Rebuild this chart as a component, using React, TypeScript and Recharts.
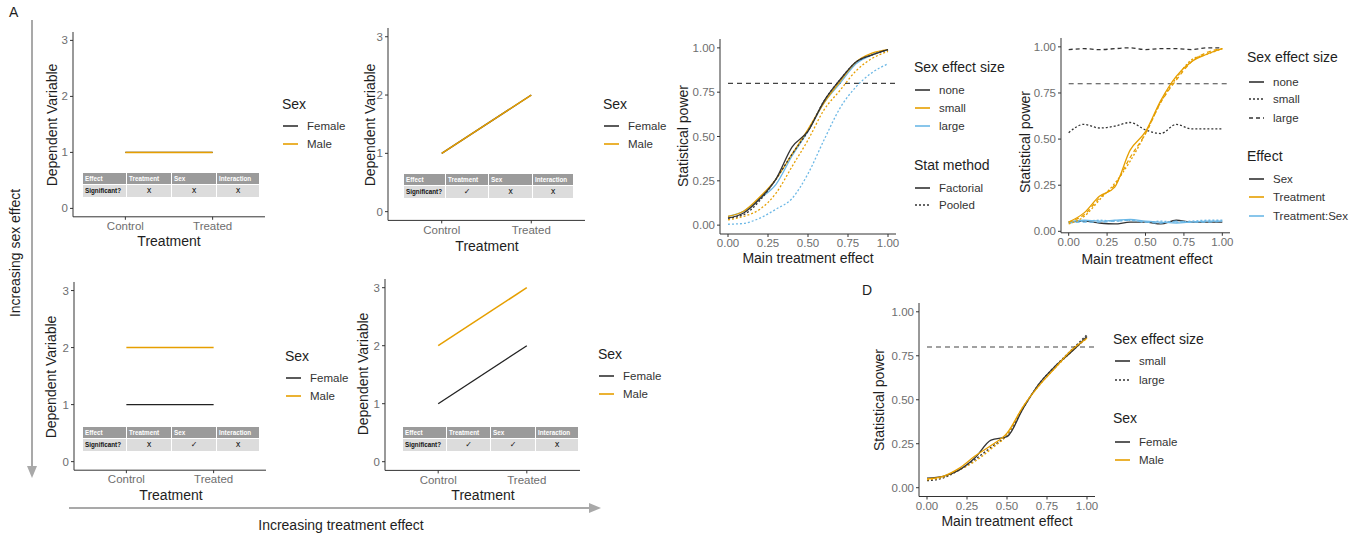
import { LineChart, Line, XAxis, YAxis, ReferenceLine } from "recharts";

const FONT = '"Liberation Sans", Arial, Helvetica, sans-serif';
const BLACK = "#333333";
const ORANGE = "#E69F00";
const BLUE = "#6CB8E6";
const TICK = "#6e6e6e";
const INK = "#1e1e1e";
const ARROW = "#a9a9a9";

// ---- panel A: toy designs, two treatment levels per sex ----
const groups = ["Control", "Treated"];
const a1Female = [1, 1];
const a1Male = [1, 1];
const a2Female = [1, 2];
const a2Male = [1, 2];
const a3Female = [1, 1];
const a3Male = [2, 2];
const a4Female = [1, 2];
const a4Male = [2, 3];
const tableHeader = ["Effect", "Treatment", "Sex", "Interaction"];
const a1Signif = ["x", "x", "x"];
const a2Signif = ["✓", "x", "x"];
const a3Signif = ["x", "✓", "x"];
const a4Signif = ["✓", "✓", "x"];

// ---- power simulations, x = main treatment effect ----
const effectX = [0, 0.1, 0.2, 0.3, 0.4, 0.5, 0.6, 0.7, 0.8, 0.9, 1];

// B: factorial vs pooled, by sex effect size
const bFactNone = [0.04, 0.07, 0.15, 0.26, 0.44, 0.53, 0.7, 0.82, 0.92, 0.96, 0.99];
const bFactSmall = [0.05, 0.08, 0.16, 0.26, 0.4, 0.54, 0.69, 0.81, 0.92, 0.97, 0.99];
const bFactLarge = [0.05, 0.08, 0.15, 0.23, 0.39, 0.53, 0.69, 0.8, 0.91, 0.96, 0.99];
const bPoolNone = [0.04, 0.06, 0.14, 0.26, 0.4, 0.53, 0.7, 0.82, 0.92, 0.96, 0.99];
const bPoolSmall = [0.03, 0.05, 0.09, 0.18, 0.33, 0.48, 0.65, 0.76, 0.87, 0.94, 0.98];
const bPoolLarge = [0.005, 0.01, 0.04, 0.09, 0.15, 0.29, 0.48, 0.66, 0.78, 0.86, 0.91];

// C: power per model term, by sex effect size
const cSexNone = [0.05, 0.055, 0.045, 0.04, 0.05, 0.05, 0.04, 0.06, 0.05, 0.05, 0.05];
const cSexSmall = [0.535, 0.58, 0.56, 0.57, 0.59, 0.55, 0.53, 0.58, 0.555, 0.555, 0.555];
const cSexLarge = [0.985, 0.99, 0.985, 0.99, 0.995, 0.985, 0.99, 0.99, 0.985, 0.995, 0.995];
const cTreatNone = [0.05, 0.1, 0.19, 0.24, 0.44, 0.54, 0.71, 0.84, 0.92, 0.96, 0.99];
const cTreatSmall = [0.04, 0.08, 0.17, 0.26, 0.38, 0.53, 0.7, 0.83, 0.93, 0.96, 0.99];
const cTreatLarge = [0.05, 0.09, 0.18, 0.25, 0.4, 0.53, 0.7, 0.82, 0.92, 0.97, 0.99];
const cIntNone = [0.05, 0.06, 0.055, 0.06, 0.065, 0.055, 0.05, 0.045, 0.05, 0.055, 0.055];
const cIntSmall = [0.05, 0.055, 0.06, 0.055, 0.06, 0.05, 0.055, 0.05, 0.055, 0.06, 0.06];
const cIntLarge = [0.045, 0.05, 0.05, 0.055, 0.06, 0.05, 0.045, 0.055, 0.05, 0.05, 0.055];

// D: power for sex-specific treatment effects
const dFemaleSmall = [0.055, 0.065, 0.1, 0.17, 0.27, 0.29, 0.45, 0.59, 0.69, 0.77, 0.86];
const dMaleSmall = [0.05, 0.065, 0.11, 0.18, 0.24, 0.31, 0.46, 0.58, 0.68, 0.78, 0.85];
const dFemaleLarge = [0.04, 0.055, 0.1, 0.16, 0.23, 0.3, 0.45, 0.59, 0.69, 0.78, 0.87];
const dMaleLarge = [0.045, 0.06, 0.1, 0.15, 0.22, 0.3, 0.46, 0.58, 0.68, 0.77, 0.85];

const powerTicks = [0, 0.25, 0.5, 0.75, 1];
const POWER_CUTOFF = 0.8;

const YW = 40;
const XH = 30;
const PAD = 4;

function frame(pl: number, pr: number, pt: number, pb: number) {
  return {
    left: pl - YW,
    top: pt - PAD,
    width: pr - pl + YW + PAD,
    height: pb - pt + PAD + XH,
  };
}

const axisLine = { stroke: "#333", strokeWidth: 1 };
const tickStyle = { fill: TICK, fontSize: 11.5, fontFamily: FONT };

function HTitle({ x, y, text, size = 14 }: any) {
  return (
    <div
      style={{
        position: "absolute",
        left: x,
        top: y,
        transform: "translate(-50%, -50%)",
        fontSize: size,
        color: INK,
        whiteSpace: "nowrap",
      }}
    >
      {text}
    </div>
  );
}

function VTitle({ x, y, text, size = 14 }: any) {
  return (
    <div
      style={{
        position: "absolute",
        left: x,
        top: y,
        transform: "translate(-50%, -50%) rotate(-90deg)",
        fontSize: size,
        color: INK,
        whiteSpace: "nowrap",
      }}
    >
      {text}
    </div>
  );
}

function LegendTitle({ x, y, text }: any) {
  return (
    <div
      style={{
        position: "absolute",
        left: x,
        top: y - 9,
        lineHeight: "18px",
        fontSize: 14,
        color: INK,
        whiteSpace: "nowrap",
      }}
    >
      {text}
    </div>
  );
}

function Key({ x, y, color, dash, label }: any) {
  return (
    <div
      style={{
        position: "absolute",
        left: x,
        top: y - 8,
        height: 16,
        lineHeight: "16px",
        display: "flex",
        alignItems: "center",
        fontSize: 11.5,
        color: "#333",
        whiteSpace: "nowrap",
      }}
    >
      <svg width={15} height={4} style={{ marginRight: 9 }}>
        <line x1={0} x2={15} y1={2} y2={2} stroke={color} strokeWidth={1.6} strokeDasharray={dash} />
      </svg>
      {label}
    </div>
  );
}

function SigTable({ cols, top, marks }: { cols: number[]; top: number; marks: string[] }) {
  const cell = (i: number, row: number, text: string, center: boolean) => (
    <div
      key={`${row}-${i}`}
      style={{
        position: "absolute",
        left: cols[i] - cols[0],
        top: row === 0 ? 0 : 12,
        width: cols[i + 1] - cols[i] - 1,
        height: row === 0 ? 11 : 12,
        lineHeight: row === 0 ? "11px" : "12px",
        background: row === 0 ? "#9b9b9b" : "#dcdcdc",
        color: row === 0 ? "#fff" : "#111",
        fontWeight: row === 0 || !center ? 700 : 400,
        fontSize: center ? 8 : 6.3,
        textAlign: center ? "center" : "left",
        paddingLeft: center ? 0 : 2,
        boxSizing: "border-box",
        fontFamily: center ? '"DejaVu Sans", sans-serif' : FONT,
        whiteSpace: "nowrap",
      }}
    >
      {text}
    </div>
  );
  return (
    <div style={{ position: "absolute", left: cols[0], top, width: cols[4] - cols[0], height: 24 }}>
      {tableHeader.map((h, i) => cell(i, 0, h, false))}
      {cell(0, 1, "Significant?", false)}
      {marks.map((m, i) => cell(i + 1, 1, m, true))}
    </div>
  );
}

function DesignPanel({ plot, female, male, marks, cols, tableTop, yTitle, xTitle, legend }: any) {
  const [pl, pr, pt, pb] = plot;
  const f = frame(pl, pr, pt, pb);
  const rows = groups.map((_, i) => ({ x: i, female: female[i], male: male[i] }));
  return (
    <>
      <div style={{ position: "absolute", left: f.left, top: f.top }}>
        <LineChart width={f.width} height={f.height} data={rows} margin={{ top: PAD, right: PAD, left: 0, bottom: 0 }}>
          <XAxis
            type="number"
            dataKey="x"
            domain={[-0.6, 1.6]}
            ticks={[0, 1]}
            allowDataOverflow
            tickFormatter={(v: number) => groups[v]}
            height={XH}
            axisLine={axisLine}
            tickLine={axisLine}
            tickSize={3}
            tick={tickStyle}
            interval={0}
          />
          <YAxis
            type="number"
            domain={[-0.15, 3.15]}
            ticks={[0, 1, 2, 3]}
            allowDataOverflow
            width={YW}
            axisLine={axisLine}
            tickLine={axisLine}
            tickSize={3}
            tick={tickStyle}
          />
          <Line dataKey="female" stroke="#222" strokeWidth={1.3} dot={false} isAnimationActive={false} />
          <Line dataKey="male" stroke={ORANGE} strokeWidth={1.5} dot={false} isAnimationActive={false} />
        </LineChart>
      </div>
      <SigTable cols={cols} top={tableTop} marks={marks} />
      <VTitle x={yTitle[0]} y={yTitle[1]} text="Dependent Variable" />
      <HTitle x={xTitle[0]} y={xTitle[1]} text="Treatment" />
      <LegendTitle x={legend[0]} y={legend[1]} text="Sex" />
      <Key x={legend[0] + 1} y={legend[1] + 22} color="#333" label="Female" />
      <Key x={legend[0] + 1} y={legend[1] + 40} color={ORANGE} label="Male" />
    </>
  );
}

function PowerChart({ plot, yDomain, rows, series }: any) {
  const [pl, pr, pt, pb] = plot;
  const f = frame(pl, pr, pt, pb);
  return (
    <div style={{ position: "absolute", left: f.left, top: f.top }}>
      <LineChart width={f.width} height={f.height} data={rows} margin={{ top: PAD, right: PAD, left: 0, bottom: 0 }}>
        <XAxis
          type="number"
          dataKey="x"
          domain={[-0.05, 1.05]}
          ticks={powerTicks}
          allowDataOverflow
          tickFormatter={(v: number) => v.toFixed(2)}
          height={XH}
          axisLine={axisLine}
          tickLine={axisLine}
          tickSize={3}
          tick={tickStyle}
          interval={0}
        />
        <YAxis
          type="number"
          domain={yDomain}
          ticks={powerTicks}
          allowDataOverflow
          tickFormatter={(v: number) => v.toFixed(2)}
          width={YW}
          axisLine={axisLine}
          tickLine={axisLine}
          tickSize={3}
          tick={tickStyle}
          interval={0}
        />
        <ReferenceLine
          segment={[
            { x: 0, y: POWER_CUTOFF },
            { x: 1.05, y: POWER_CUTOFF },
          ]}
          stroke="#444"
          strokeWidth={1.2}
          strokeDasharray="5 4"
          ifOverflow="hidden"
        />
        {series.map((s: any) => (
          <Line
            key={s.key}
            dataKey={s.key}
            type="monotone"
            stroke={s.color}
            strokeWidth={1.3}
            strokeDasharray={s.dash}
            dot={false}
            isAnimationActive={false}
          />
        ))}
      </LineChart>
    </div>
  );
}

const DOT = "2 2";
const DASH = "4 3";

export default function App() {
  const bRows = effectX.map((x, i) => ({
    x,
    factNone: bFactNone[i],
    factSmall: bFactSmall[i],
    factLarge: bFactLarge[i],
    poolNone: bPoolNone[i],
    poolSmall: bPoolSmall[i],
    poolLarge: bPoolLarge[i],
  }));
  const cRows = effectX.map((x, i) => ({
    x,
    sexNone: cSexNone[i],
    sexSmall: cSexSmall[i],
    sexLarge: cSexLarge[i],
    treatNone: cTreatNone[i],
    treatSmall: cTreatSmall[i],
    treatLarge: cTreatLarge[i],
    intNone: cIntNone[i],
    intSmall: cIntSmall[i],
    intLarge: cIntLarge[i],
  }));
  const dRows = effectX.map((x, i) => ({
    x,
    femaleSmall: dFemaleSmall[i],
    maleSmall: dMaleSmall[i],
    femaleLarge: dFemaleLarge[i],
    maleLarge: dMaleLarge[i],
  }));

  return (
    <div
      style={{
        position: "absolute",
        left: 0,
        top: 0,
        width: 1362,
        height: 538,
        background: "#fff",
        fontFamily: FONT,
        overflow: "hidden",
      }}
    >
      {/* arrows of panel A */}
      <svg width={1362} height={538} style={{ position: "absolute", left: 0, top: 0 }}>
        <line x1={32} y1={20} x2={32} y2={467} stroke={ARROW} strokeWidth={2} />
        <polygon points="27,466 37,466 32,478" fill={ARROW} />
        <line x1={69} y1={508} x2={590} y2={508} stroke={ARROW} strokeWidth={2} />
        <polygon points="589,503 589,513 601,508" fill={ARROW} />
      </svg>
      <div style={{ position: "absolute", left: 9, top: 4, fontSize: 14, color: INK }}>A</div>
      <div style={{ position: "absolute", left: 862, top: 282, fontSize: 14, color: INK }}>D</div>
      <VTitle x={15} y={253} text="Increasing sex effect" />
      <HTitle x={341} y={525} text="Increasing treatment effect" />

      <DesignPanel
        plot={[73, 265, 31.6, 216.4]}
        female={a1Female}
        male={a1Male}
        marks={a1Signif}
        cols={[83, 127, 172, 217, 260]}
        tableTop={173}
        yTitle={[52, 125]}
        xTitle={[169, 241]}
        legend={[282, 104]}
      />
      <DesignPanel
        plot={[388, 585, 28.3, 220.7]}
        female={a2Female}
        male={a2Male}
        marks={a2Signif}
        cols={[404, 446, 489, 533, 574]}
        tableTop={174}
        yTitle={[370, 125]}
        xTitle={[487, 246]}
        legend={[603, 104]}
      />
      <DesignPanel
        plot={[74, 266, 282.4, 470.6]}
        female={a3Female}
        male={a3Male}
        marks={a3Signif}
        cols={[83, 127, 172, 217, 260]}
        tableTop={427}
        yTitle={[51, 377]}
        xTitle={[171, 495]}
        legend={[285, 356]}
      />
      <DesignPanel
        plot={[385, 580, 279.3, 470.7]}
        female={a4Female}
        male={a4Male}
        marks={a4Signif}
        cols={[403, 447, 491, 536, 579]}
        tableTop={427}
        yTitle={[363, 374]}
        xTitle={[483, 495]}
        legend={[598, 354]}
      />

      {/* B */}
      <PowerChart
        plot={[720, 896, 39, 234]}
        yDomain={[-0.05, 1.05]}
        rows={bRows}
        series={[
          { key: "poolLarge", color: BLUE, dash: DOT },
          { key: "poolSmall", color: ORANGE, dash: DOT },
          { key: "factLarge", color: BLUE },
          { key: "factSmall", color: ORANGE },
          { key: "factNone", color: BLACK },
          { key: "poolNone", color: BLACK, dash: DOT },
        ]}
      />
      <VTitle x={683} y={136} text="Statistical power" />
      <HTitle x={808} y={258} text="Main treatment effect" />
      <LegendTitle x={914} y={67} text="Sex effect size" />
      <Key x={915} y={90} color={BLACK} label="none" />
      <Key x={915} y={108} color={ORANGE} label="small" />
      <Key x={915} y={126} color={BLUE} label="large" />
      <LegendTitle x={914} y={165} text="Stat method" />
      <Key x={915} y={188} color={BLACK} label="Factorial" />
      <Key x={915} y={205} color={BLACK} dash={DOT} label="Pooled" />

      {/* C */}
      <PowerChart
        plot={[1061, 1230, 38.4, 233.2]}
        yDomain={[-0.008, 1.048]}
        rows={cRows}
        series={[
          { key: "sexLarge", color: BLACK, dash: DASH },
          { key: "sexSmall", color: BLACK, dash: DOT },
          { key: "sexNone", color: BLACK },
          { key: "intNone", color: BLUE },
          { key: "intSmall", color: BLUE, dash: DOT },
          { key: "intLarge", color: BLUE, dash: DASH },
          { key: "treatSmall", color: ORANGE, dash: DOT },
          { key: "treatLarge", color: ORANGE, dash: DASH },
          { key: "treatNone", color: ORANGE },
        ]}
      />
      <VTitle x={1025} y={142} text="Statistical power" />
      <HTitle x={1147} y={259} text="Main treatment effect" />
      <LegendTitle x={1247} y={57} text="Sex effect size" />
      <Key x={1249} y={82} color={BLACK} label="none" />
      <Key x={1249} y={99} color={BLACK} dash={DOT} label="small" />
      <Key x={1249} y={118} color={BLACK} dash={DASH} label="large" />
      <LegendTitle x={1247} y={156} text="Effect" />
      <Key x={1249} y={179} color={BLACK} label="Sex" />
      <Key x={1249} y={197} color={ORANGE} label="Treatment" />
      <Key x={1249} y={216} color={BLUE} label="Treatment:Sex" />

      {/* D */}
      <PowerChart
        plot={[919, 1095, 303, 496.5]}
        yDomain={[-0.05, 1.05]}
        rows={dRows}
        series={[
          { key: "femaleLarge", color: BLACK, dash: DOT },
          { key: "maleLarge", color: ORANGE, dash: DOT },
          { key: "femaleSmall", color: BLACK },
          { key: "maleSmall", color: ORANGE },
        ]}
      />
      <VTitle x={879} y={400} text="Statistical power" />
      <HTitle x={1007} y={521} text="Main treatment effect" />
      <LegendTitle x={1113} y={339} text="Sex effect size" />
      <Key x={1115} y={361} color={BLACK} label="small" />
      <Key x={1115} y={380} color={BLACK} dash={DOT} label="large" />
      <LegendTitle x={1113} y={418} text="Sex" />
      <Key x={1115} y={442} color={BLACK} label="Female" />
      <Key x={1115} y={460} color={ORANGE} label="Male" />
    </div>
  );
}
